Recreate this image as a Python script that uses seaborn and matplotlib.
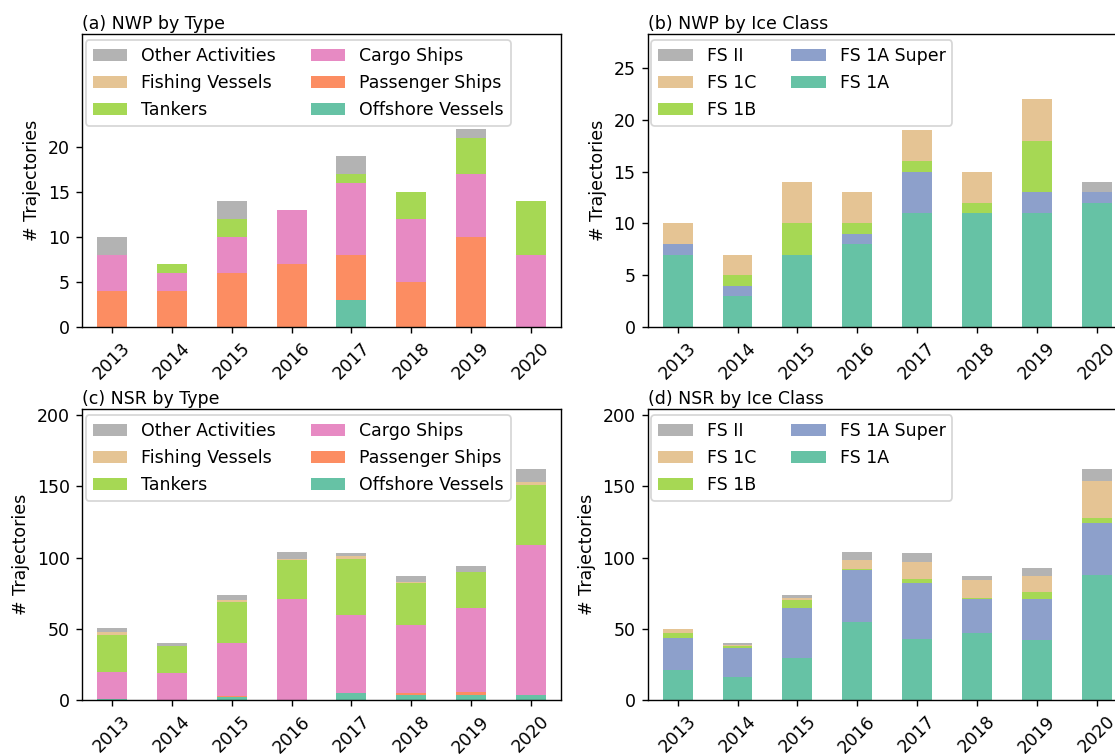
import numpy as np
import pandas as pd
import matplotlib
matplotlib.use("Agg")
import matplotlib.pyplot as plt
import seaborn as sns

years = ["2013", "2014", "2015", "2016", "2017", "2018", "2019", "2020"]

# Northwest Passage, by ship type
nwp_offshore = [0, 0, 0, 0, 3, 0, 0, 0]
nwp_passenger = [4, 4, 6, 7, 5, 5, 10, 0]
nwp_cargo = [4, 2, 4, 6, 8, 7, 7, 8]
nwp_tankers = [0, 1, 2, 0, 1, 3, 4, 6]
nwp_fishing = [0, 0, 0, 0, 0, 0, 0, 0]
nwp_other = [2, 0, 2, 0, 2, 0, 1, 0]

# Northwest Passage, by ice class
nwp_fs1a = [7, 3, 7, 8, 11, 11, 11, 12]
nwp_fs1a_super = [1, 1, 0, 1, 4, 0, 2, 1]
nwp_fs1b = [0, 1, 3, 1, 1, 1, 5, 0]
nwp_fs1c = [2, 2, 4, 3, 3, 3, 4, 0]
nwp_fs2 = [0, 0, 0, 0, 0, 0, 0, 1]

# Northern Sea Route, by ship type
nsr_offshore = [1, 0, 2, 0, 5, 4, 4, 4]
nsr_passenger = [0, 0, 1, 0, 0, 1, 2, 0]
nsr_cargo = [19, 19, 37, 71, 55, 48, 59, 105]
nsr_tankers = [26, 19, 29, 27, 39, 29, 25, 42]
nsr_fishing = [2, 0, 1, 1, 2, 1, 0, 2]
nsr_other = [3, 2, 4, 5, 2, 4, 4, 9]

# Northern Sea Route, by ice class
nsr_fs1a = [21, 16, 30, 55, 43, 47, 42, 88]
nsr_fs1a_super = [23, 21, 35, 36, 39, 24, 29, 36]
nsr_fs1b = [3, 1, 5, 1, 3, 1, 5, 4]
nsr_fs1c = [3, 1, 2, 6, 12, 12, 11, 26]
nsr_fs2 = [0, 1, 2, 6, 6, 3, 6, 8]

type_labels = ["Offshore Vessels", "Passenger Ships", "Cargo Ships",
               "Tankers", "Fishing Vessels", "Other Activities"]
ice_labels = ["FS 1A", "FS 1A Super", "FS 1B", "FS 1C", "FS II"]

set2 = sns.color_palette("Set2", 8)
type_colors = [set2[0], set2[1], set2[3], set2[4], set2[6], set2[7]]
ice_colors = [set2[0], set2[2], set2[4], set2[6], set2[7]]


def stacked(ax, series, labels, colors, title, ymax, yticks):
    df = pd.DataFrame(dict(zip(labels, series)), index=years)
    cum = df.cumsum(axis=1)
    # draw the tallest cumulative layer first so lower layers sit on top
    for name, col in zip(labels[::-1], colors[::-1]):
        d = pd.DataFrame({"year": years, "value": cum[name].values})
        sns.barplot(data=d, x="year", y="value", color=col, width=0.5,
                    saturation=1, label=name, ax=ax, linewidth=0)
    ax.set_xlim(-0.5, len(years) - 0.5)
    ax.set_ylim(0, ymax)
    ax.set_yticks(yticks)
    ax.set_xlabel("")
    ax.set_ylabel("# Trajectories", fontsize=10)
    ax.tick_params(axis="x", labelrotation=45, labelsize=10)
    ax.tick_params(axis="y", labelsize=10)
    ax.set_title(title, loc="left", pad=3, fontsize=10)
    ax.legend(loc="upper left", ncol=2, bbox_to_anchor=(0.0075, 0.978),
              borderaxespad=0, fontsize=10)


fig = plt.figure(figsize=(8.92, 6.032), dpi=125)
W, H = 1115, 754
axw = 479 / W


def axes_at(left, top, bottom):
    return fig.add_axes([left / W, 1 - bottom / H, axw, (bottom - top) / H])


ax_a = axes_at(82, 34, 327)
ax_b = axes_at(647.7, 34, 327)
ax_c = axes_at(82, 409, 700.3)
ax_d = axes_at(647.7, 409, 700.3)

stacked(ax_a,
        [nwp_offshore, nwp_passenger, nwp_cargo, nwp_tankers, nwp_fishing, nwp_other],
        type_labels, type_colors, "(a) NWP by Type", 32.5, [0, 5, 10, 15, 20])
stacked(ax_b,
        [nwp_fs1a, nwp_fs1a_super, nwp_fs1b, nwp_fs1c, nwp_fs2],
        ice_labels, ice_colors, "(b) NWP by Ice Class", 28.3, [0, 5, 10, 15, 20, 25])
stacked(ax_c,
        [nsr_offshore, nsr_passenger, nsr_cargo, nsr_tankers, nsr_fishing, nsr_other],
        type_labels, type_colors, "(c) NSR by Type", 204.2, [0, 50, 100, 150, 200])
stacked(ax_d,
        [nsr_fs1a, nsr_fs1a_super, nsr_fs1b, nsr_fs1c, nsr_fs2],
        ice_labels, ice_colors, "(d) NSR by Ice Class", 204.2, [0, 50, 100, 150, 200])

fig.savefig("out.png", dpi=125)
